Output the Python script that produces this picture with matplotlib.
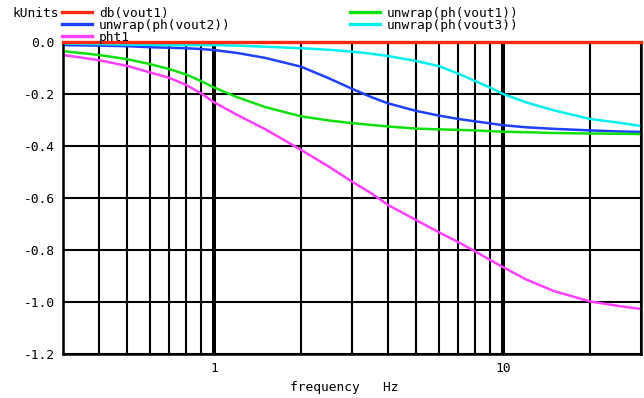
import matplotlib
matplotlib.use('Agg')
import matplotlib.pyplot as plt
from matplotlib.lines import Line2D
from matplotlib.ticker import LogLocator, NullFormatter, FixedLocator, FixedFormatter

# frequency points (Hz) and the traces (kUnits)
freq = [0.3, 0.4, 0.5, 0.6, 0.7, 0.8, 0.9, 1, 1.2, 1.5, 2, 2.5, 3, 3.5, 4, 5, 6, 7, 8,
        9, 10, 12, 15, 20, 25, 30]
db_vout1 = [0.0] * len(freq)
ph_vout1 = [-0.035, -0.05, -0.066, -0.085, -0.104, -0.125, -0.15, -0.175, -0.212, -0.25,
            -0.286, -0.302, -0.312, -0.319, -0.325, -0.333, -0.336, -0.338, -0.34,
            -0.343, -0.345, -0.347, -0.35, -0.352, -0.353, -0.354]
ph_vout2 = [-0.012, -0.014, -0.016, -0.02, -0.022, -0.024, -0.027, -0.031, -0.042, -0.061,
            -0.095, -0.14, -0.18, -0.212, -0.236, -0.265, -0.283, -0.296, -0.305,
            -0.313, -0.32, -0.328, -0.334, -0.34, -0.344, -0.346]
ph_vout3 = [-0.006, -0.008, -0.01, -0.011, -0.012, -0.012, -0.012, -0.012, -0.014, -0.018,
            -0.024, -0.03, -0.037, -0.045, -0.054, -0.073, -0.093, -0.122, -0.15,
            -0.175, -0.2, -0.232, -0.263, -0.296, -0.31, -0.323]
pht1 = [-0.05, -0.07, -0.092, -0.117, -0.138, -0.165, -0.197, -0.232, -0.28, -0.335,
        -0.415, -0.48, -0.537, -0.582, -0.627, -0.685, -0.732, -0.77, -0.805,
        -0.838, -0.866, -0.913, -0.958, -0.998, -1.015, -1.027]

yticks = [0.0, -0.2, -0.4, -0.6, -0.8, -1.0, -1.2]
ytick_labels = ['0.0', '-0.2', '-0.4', '-0.6', '-0.8', '-1.0', '-1.2']

RED = '#ff2a10'
BLUE = '#2040ff'
GREEN = '#10e010'
CYAN = '#00f0f0'
MAGENTA = '#ff40ff'
MONO = 'DejaVu Sans Mono'
FS = 9.3

W, H = 644, 398
fig = plt.figure(figsize=(W / 100, H / 100), dpi=100)
ax = fig.add_axes([63 / W, 1 - 354 / H, 578 / W, 312 / H])

ax.set_xscale('log')
ax.set_xlim(0.3, 30)
ax.set_ylim(-1.2, 0.0)

# grid: minor lines thin, decades thick
ax.xaxis.set_major_locator(FixedLocator([1, 10]))
ax.xaxis.set_major_formatter(FixedFormatter(['1', '10']))
ax.xaxis.set_minor_locator(LogLocator(base=10, subs=[2, 3, 4, 5, 6, 7, 8, 9]))
ax.xaxis.set_minor_formatter(NullFormatter())
ax.set_yticks(yticks)
ax.set_yticklabels(ytick_labels)
ax.grid(True, which='major', axis='x', color='black', lw=2.9)
ax.grid(True, which='minor', axis='x', color='black', lw=1.5)
ax.grid(True, which='major', axis='y', color='black', lw=1.5)
ax.set_axisbelow(True)
ax.tick_params(which='both', length=0)
ax.tick_params(axis='y', pad=6)
ax.tick_params(axis='x', pad=6)
for lab in ax.get_xticklabels() + ax.get_yticklabels():
    lab.set_fontfamily(MONO)
    lab.set_fontsize(FS)
for s in ax.spines.values():
    s.set_linewidth(1.8)
    s.set_color('black')

ax.plot(freq, ph_vout2, color=BLUE, lw=1.8)
ax.plot(freq, pht1, color=MAGENTA, lw=1.8)
ax.plot(freq, ph_vout1, color=GREEN, lw=1.8)
ax.plot(freq, ph_vout3, color=CYAN, lw=1.8)
ax.plot(freq, db_vout1, color=RED, lw=2.4, clip_on=False, zorder=5)

# legend block above the plot, laid out like the simulator's header
def fx(px):
    return px / W

def fy(py):
    return 1 - py / H

fig.text(fx(12), fy(17), 'kUnits', family=MONO, fontsize=FS, va='baseline')
entries = [
    (62, 16.5, RED, 'db(vout1)'),
    (62, 28.5, BLUE, 'unwrap(ph(vout2))'),
    (62, 40.5, MAGENTA, 'pht1'),
    (350, 16.5, GREEN, 'unwrap(ph(vout1))'),
    (350, 28.5, CYAN, 'unwrap(ph(vout3))'),
]
for x0, yb, col, name in entries:
    fig.add_artist(Line2D([fx(x0), fx(x0 + 30)], [fy(yb - 5), fy(yb - 5)],
                          color=col, lw=2.4, transform=fig.transFigure))
    fig.text(fx(x0 + 37), fy(yb), name, family=MONO, fontsize=FS, va='baseline')

fig.text(fx(290), fy(391), 'frequency   Hz', family=MONO, fontsize=FS, va='baseline')

fig.savefig('out.png', dpi=100)
